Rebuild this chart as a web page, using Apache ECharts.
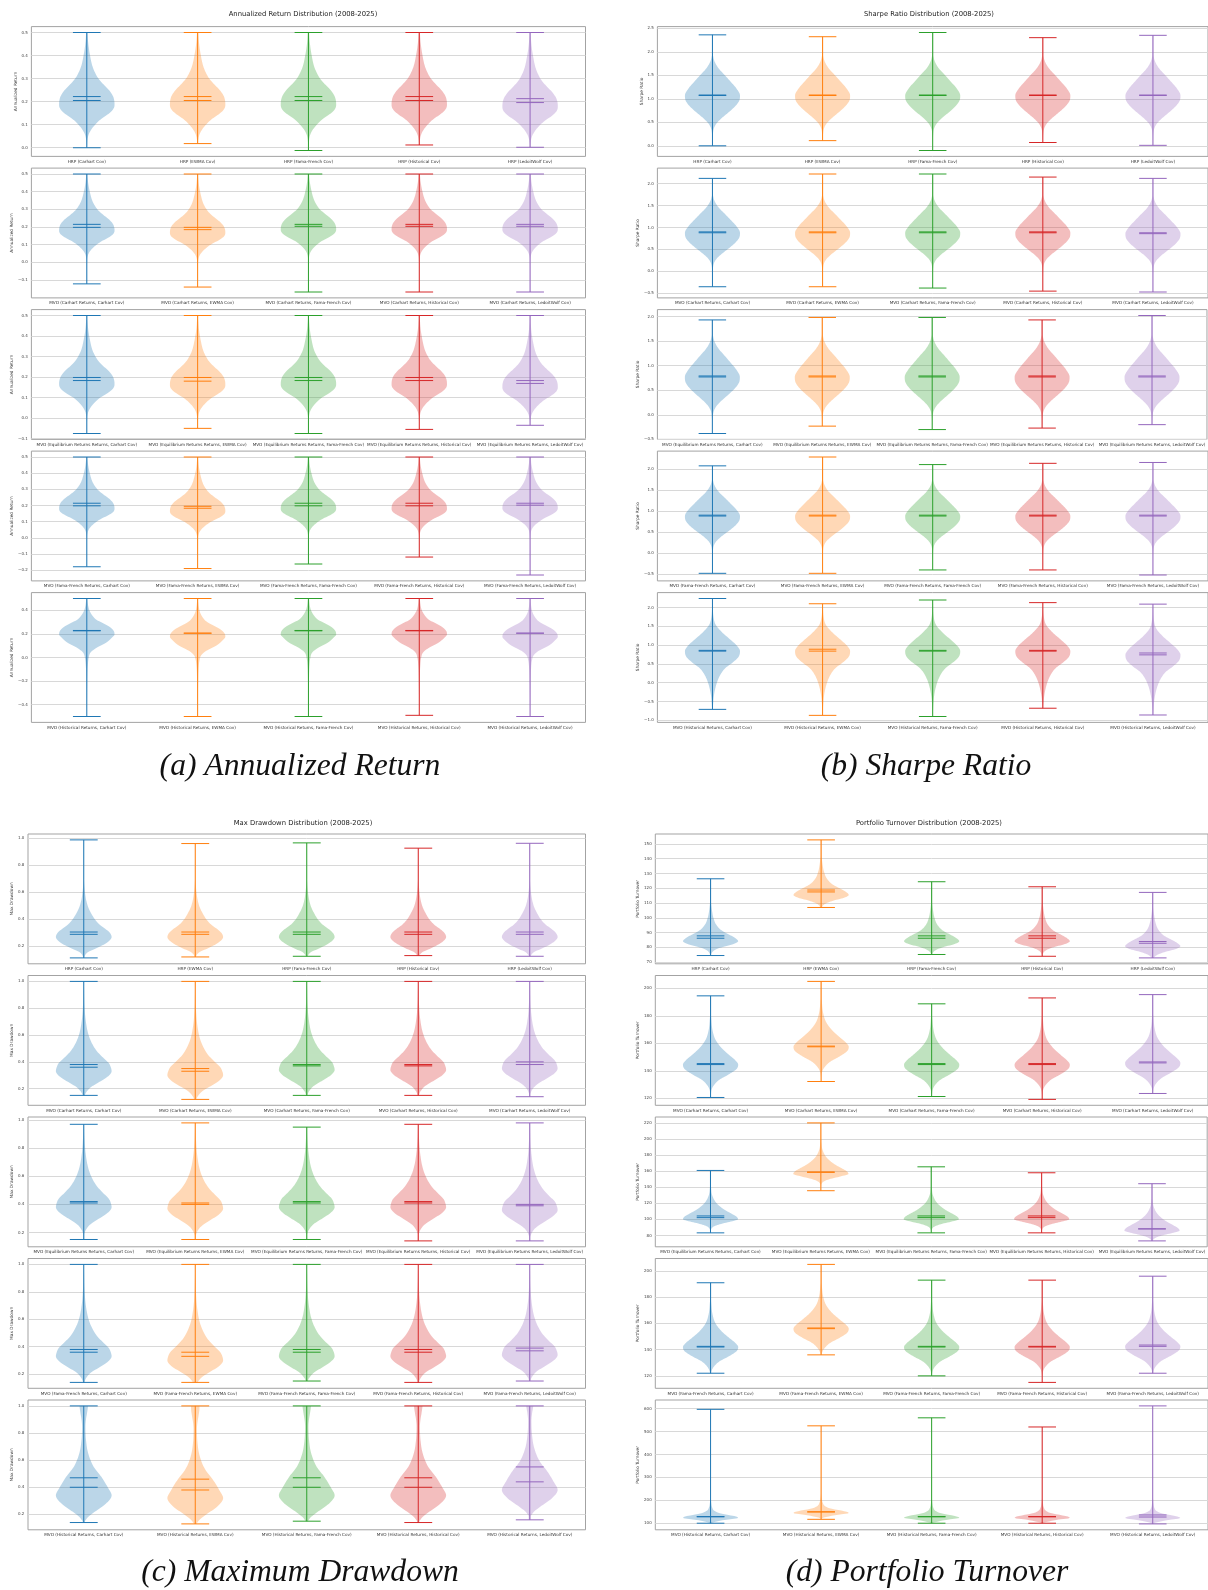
<!DOCTYPE html>
<html>
<head>
<meta charset="utf-8">
<script src="https://cdn.jsdelivr.net/npm/echarts@6/dist/echarts.min.js"></script>
<style>
  html, body { margin: 0; padding: 0; background: #ffffff; }
  #chart { width: 1208px; height: 1590px; }
</style>
</head>
<body>
<div id="chart"></div>
<script>
// ---------------------------------------------------------------------------
// Strategy names, one list per subplot row (same rows in every figure)
// ---------------------------------------------------------------------------
const STRATEGIES = [
  ['HRP (Carhart Cov)', 'HRP (EWMA Cov)', 'HRP (Fama-French Cov)', 'HRP (Historical Cov)', 'HRP (LedoitWolf Cov)'],
  ['MVO (Carhart Returns, Carhart Cov)', 'MVO (Carhart Returns, EWMA Cov)', 'MVO (Carhart Returns, Fama-French Cov)', 'MVO (Carhart Returns, Historical Cov)', 'MVO (Carhart Returns, LedoitWolf Cov)'],
  ['MVO (Equilibrium Returns Returns, Carhart Cov)', 'MVO (Equilibrium Returns Returns, EWMA Cov)', 'MVO (Equilibrium Returns Returns, Fama-French Cov)', 'MVO (Equilibrium Returns Returns, Historical Cov)', 'MVO (Equilibrium Returns Returns, LedoitWolf Cov)'],
  ['MVO (Fama-French Returns, Carhart Cov)', 'MVO (Fama-French Returns, EWMA Cov)', 'MVO (Fama-French Returns, Fama-French Cov)', 'MVO (Fama-French Returns, Historical Cov)', 'MVO (Fama-French Returns, LedoitWolf Cov)'],
  ['MVO (Historical Returns, Carhart Cov)', 'MVO (Historical Returns, EWMA Cov)', 'MVO (Historical Returns, Fama-French Cov)', 'MVO (Historical Returns, Historical Cov)', 'MVO (Historical Returns, LedoitWolf Cov)']
];

// ---------------------------------------------------------------------------
// Annualized return: extrema, mean and median per strategy (rows x strategies)
// ---------------------------------------------------------------------------
const RETURN_MIN = [
  [0.000, 0.018, -0.012, 0.012, 0.002],
  [-0.122, -0.140, -0.168, -0.168, -0.168],
  [-0.075, -0.050, -0.075, -0.055, -0.035],
  [-0.179, -0.190, -0.162, -0.119, -0.230],
  [-0.500, -0.500, -0.500, -0.490, -0.500]
];
const RETURN_MAX = [
  [0.5, 0.5, 0.5, 0.5, 0.5],
  [0.5, 0.5, 0.5, 0.5, 0.5],
  [0.5, 0.5, 0.5, 0.5, 0.5],
  [0.5, 0.5, 0.5, 0.5, 0.5],
  [0.5, 0.5, 0.5, 0.5, 0.5]
];
const RETURN_MEAN = [
  [0.222, 0.222, 0.222, 0.222, 0.213],
  [0.215, 0.198, 0.215, 0.215, 0.215],
  [0.198, 0.198, 0.198, 0.198, 0.183],
  [0.214, 0.195, 0.214, 0.214, 0.214],
  [0.229, 0.207, 0.229, 0.229, 0.207]
];
const RETURN_MEDIAN = [
  [0.205, 0.205, 0.205, 0.205, 0.196],
  [0.198, 0.185, 0.204, 0.204, 0.204],
  [0.183, 0.180, 0.183, 0.183, 0.169],
  [0.198, 0.183, 0.198, 0.198, 0.202],
  [0.226, 0.205, 0.226, 0.226, 0.205]
];
const RETURN_TICKS = [
  [0.0, 0.1, 0.2, 0.3, 0.4, 0.5],
  [-0.1, 0.0, 0.1, 0.2, 0.3, 0.4, 0.5],
  [-0.1, 0.0, 0.1, 0.2, 0.3, 0.4, 0.5],
  [-0.2, -0.1, 0.0, 0.1, 0.2, 0.3, 0.4, 0.5],
  [-0.4, -0.2, 0.0, 0.2, 0.4]
];
// density outlines: [offset from median, relative half-width]
const RETURN_BODY = [[0.30, 0.02], [0.25, 0.05], [0.20, 0.11], [0.15, 0.2], [0.12, 0.3], [0.095, 0.42], [0.07, 0.6], [0.045, 0.8], [0.02, 0.94], [0.0, 0.99], [-0.02, 1.0], [-0.04, 0.94], [-0.06, 0.76], [-0.08, 0.52], [-0.105, 0.3], [-0.13, 0.14], [-0.15, 0.06], [-0.17, 0.025], [-0.2, 0.01]];
const RETURN_BODY_HIST = [[0.27, 0.02], [0.2, 0.06], [0.17, 0.1], [0.13, 0.2], [0.094, 0.35], [0.06, 0.62], [0.034, 0.82], [0.0, 0.97], [-0.03, 1.0], [-0.06, 0.9], [-0.1, 0.7], [-0.146, 0.33], [-0.186, 0.13], [-0.226, 0.07], [-0.3, 0.035], [-0.4, 0.02], [-0.55, 0.01], [-0.72, 0.005]];
const RETURN_SHAPES = [RETURN_BODY, RETURN_BODY, RETURN_BODY, RETURN_BODY, RETURN_BODY_HIST];

// ---------------------------------------------------------------------------
// Sharpe ratio
// ---------------------------------------------------------------------------
const SHARPE_MIN = [
  [0.00, 0.11, -0.10, 0.07, 0.01],
  [-0.35, -0.35, -0.38, -0.45, -0.47],
  [-0.38, -0.23, -0.30, -0.27, -0.20],
  [-0.48, -0.48, -0.40, -0.40, -0.52],
  [-0.71, -0.87, -0.90, -0.68, -0.86]
];
const SHARPE_MAX = [
  [2.36, 2.32, 2.41, 2.30, 2.35],
  [2.12, 2.22, 2.22, 2.15, 2.12],
  [1.93, 1.98, 1.98, 1.93, 2.02],
  [2.07, 2.28, 2.10, 2.13, 2.15],
  [2.24, 2.10, 2.20, 2.13, 2.09]
];
const SHARPE_MEAN = [
  [1.08, 1.08, 1.08, 1.08, 1.08],
  [0.90, 0.90, 0.90, 0.90, 0.88],
  [0.79, 0.79, 0.79, 0.79, 0.79],
  [0.90, 0.90, 0.90, 0.90, 0.90],
  [0.86, 0.89, 0.86, 0.86, 0.79]
];
const SHARPE_MEDIAN = [
  [1.07, 1.07, 1.07, 1.07, 1.07],
  [0.88, 0.88, 0.88, 0.88, 0.86],
  [0.77, 0.77, 0.77, 0.77, 0.77],
  [0.88, 0.88, 0.88, 0.88, 0.88],
  [0.84, 0.84, 0.84, 0.84, 0.74]
];
const SHARPE_TICKS = [
  [0.0, 0.5, 1.0, 1.5, 2.0, 2.5],
  [-0.5, 0.0, 0.5, 1.0, 1.5, 2.0],
  [-0.5, 0.0, 0.5, 1.0, 1.5, 2.0],
  [-0.5, 0.0, 0.5, 1.0, 1.5, 2.0],
  [-1.0, -0.5, 0.0, 0.5, 1.0, 1.5, 2.0]
];
const SHARPE_BODY = [[0.85, 0.02], [0.75, 0.06], [0.65, 0.14], [0.55, 0.26], [0.45, 0.42], [0.3, 0.65], [0.15, 0.87], [0.0, 1.0], [-0.1, 0.98], [-0.2, 0.87], [-0.3, 0.7], [-0.4, 0.5], [-0.5, 0.3], [-0.6, 0.14], [-0.7, 0.05], [-0.8, 0.02], [-1.0, 0.008]];
const SHARPE_BODY_HIST = [[1.3, 0.01], [0.9, 0.04], [0.7, 0.12], [0.5, 0.35], [0.3, 0.66], [0.15, 0.88], [0.0, 1.0], [-0.15, 0.95], [-0.3, 0.74], [-0.45, 0.47], [-0.6, 0.31], [-0.8, 0.18], [-1.0, 0.1], [-1.2, 0.05], [-1.4, 0.025], [-1.6, 0.01]];
const SHARPE_SHAPES = [SHARPE_BODY, SHARPE_BODY, SHARPE_BODY, SHARPE_BODY, SHARPE_BODY_HIST];

// ---------------------------------------------------------------------------
// Max drawdown
// ---------------------------------------------------------------------------
const DRAWDOWN_MIN = [
  [0.114, 0.121, 0.126, 0.131, 0.126],
  [0.15, 0.12, 0.15, 0.15, 0.14],
  [0.15, 0.15, 0.15, 0.14, 0.14],
  [0.14, 0.14, 0.15, 0.14, 0.15],
  [0.14, 0.13, 0.15, 0.14, 0.16]
];
const DRAWDOWN_MAX = [
  [0.985, 0.958, 0.963, 0.924, 0.960],
  [1.0, 1.0, 1.0, 1.0, 1.0],
  [0.97, 0.98, 0.95, 0.97, 0.98],
  [1.0, 1.0, 1.0, 1.0, 1.0],
  [1.0, 1.0, 1.0, 1.0, 1.0]
];
const DRAWDOWN_MEAN = [
  [0.305, 0.305, 0.305, 0.305, 0.305],
  [0.38, 0.35, 0.38, 0.38, 0.40],
  [0.42, 0.41, 0.42, 0.42, 0.40],
  [0.38, 0.36, 0.38, 0.38, 0.39],
  [0.47, 0.46, 0.47, 0.47, 0.55]
];
const DRAWDOWN_MEDIAN = [
  [0.288, 0.288, 0.288, 0.288, 0.288],
  [0.36, 0.33, 0.37, 0.37, 0.38],
  [0.41, 0.40, 0.41, 0.41, 0.39],
  [0.36, 0.33, 0.36, 0.36, 0.37],
  [0.40, 0.38, 0.40, 0.40, 0.44]
];
const DRAWDOWN_TICKS = [
  [0.2, 0.4, 0.6, 0.8, 1.0],
  [0.2, 0.4, 0.6, 0.8, 1.0],
  [0.2, 0.4, 0.6, 0.8, 1.0],
  [0.2, 0.4, 0.6, 0.8, 1.0],
  [0.2, 0.4, 0.6, 0.8, 1.0]
];
const DRAWDOWN_BODY_HRP = [[0.4, 0.01], [0.35, 0.025], [0.3, 0.05], [0.25, 0.09], [0.2, 0.16], [0.15, 0.28], [0.11, 0.4], [0.07, 0.58], [0.04, 0.78], [0.01, 0.94], [-0.02, 1.0], [-0.05, 0.9], [-0.08, 0.68], [-0.11, 0.38], [-0.13, 0.16], [-0.15, 0.06], [-0.17, 0.02]];
const DRAWDOWN_BODY = [[0.6, 0.01], [0.45, 0.03], [0.35, 0.07], [0.25, 0.16], [0.18, 0.29], [0.12, 0.47], [0.07, 0.7], [0.03, 0.9], [0.0, 0.97], [-0.03, 1.0], [-0.07, 0.86], [-0.11, 0.56], [-0.15, 0.25], [-0.19, 0.08], [-0.22, 0.02]];
const DRAWDOWN_BODY_HIST = [[0.75, 0.15], [0.6, 0.15], [0.55, 0.12], [0.5, 0.08], [0.45, 0.06], [0.35, 0.08], [0.25, 0.16], [0.15, 0.36], [0.08, 0.62], [0.0, 0.86], [-0.06, 1.0], [-0.12, 0.8], [-0.18, 0.4], [-0.22, 0.15], [-0.25, 0.04]];
const DRAWDOWN_SHAPES = [DRAWDOWN_BODY_HRP, DRAWDOWN_BODY, DRAWDOWN_BODY, DRAWDOWN_BODY, DRAWDOWN_BODY_HIST];

// ---------------------------------------------------------------------------
// Portfolio turnover
// ---------------------------------------------------------------------------
const TURNOVER_MIN = [
  [74.5, 107.0, 75.2, 74.0, 72.9],
  [120.7, 132.3, 121.4, 119.3, 123.6],
  [83.3, 135.7, 83.3, 83.3, 73.3],
  [122, 136, 120, 115, 122],
  [100, 117, 100, 100, 97]
];
const TURNOVER_MAX = [
  [126.4, 152.7, 124.4, 121.0, 117.2],
  [194.5, 205.0, 188.7, 193.0, 195.4],
  [160.9, 220.0, 165.4, 158.0, 144.4],
  [191, 205, 193, 193, 196],
  [597, 525, 560, 520, 612]
];
const TURNOVER_MEAN = [
  [87.8, 118.8, 87.8, 87.8, 84.0],
  [145.3, 158.0, 145.3, 145.3, 146.5],
  [104.3, 159.0, 104.3, 104.3, 88.5],
  [142.5, 156.5, 142.5, 142.5, 143.5],
  [129, 150, 129, 129, 136]
];
const TURNOVER_MEDIAN = [
  [86.2, 117.5, 86.2, 86.2, 82.8],
  [144.6, 157.5, 144.6, 144.6, 145.8],
  [102.2, 158.5, 102.2, 102.2, 88.0],
  [142.0, 156.0, 142.0, 142.0, 142.5],
  [128, 149, 128, 128, 127]
];
const TURNOVER_TICKS = [
  [70, 80, 90, 100, 110, 120, 130, 140, 150],
  [120, 140, 160, 180, 200],
  [80, 100, 120, 140, 160, 180, 200, 220],
  [120, 140, 160, 180, 200],
  [100, 200, 300, 400, 500, 600]
];
const TURNOVER_BODY_HRP = [[24, 0.02], [19, 0.05], [14, 0.1], [9, 0.21], [5, 0.42], [2, 0.72], [0, 0.9], [-2, 1.0], [-4, 0.82], [-6, 0.42], [-8, 0.15], [-10, 0.04], [-13, 0.01]];
const TURNOVER_BODY_MVO = [[35, 0.02], [25, 0.07], [18, 0.18], [12, 0.4], [7, 0.67], [3, 0.9], [0, 1.0], [-3, 0.95], [-7, 0.67], [-11, 0.32], [-15, 0.12], [-18, 0.04], [-22, 0.01]];
const TURNOVER_BODY_EQ = [[38, 0.02], [28, 0.06], [18, 0.22], [10, 0.5], [5, 0.76], [1, 0.95], [-2, 1.0], [-5, 0.72], [-8, 0.36], [-11, 0.12], [-14, 0.03], [-18, 0.01]];
const TURNOVER_BODY_HIST = [[80, 0.01], [60, 0.025], [40, 0.06], [25, 0.15], [15, 0.35], [7, 0.7], [0, 0.95], [-5, 1.0], [-12, 0.6], [-20, 0.25], [-26, 0.05], [-30, 0.01]];
const TURNOVER_SHAPES = [TURNOVER_BODY_HRP, TURNOVER_BODY_MVO, TURNOVER_BODY_EQ, TURNOVER_BODY_MVO, TURNOVER_BODY_HIST];

// ---------------------------------------------------------------------------
// Figure definitions
// ---------------------------------------------------------------------------
const METRICS = [
  { title: 'Annualized Return Distribution (2008-2025)', yName: 'Annualized Return', caption: '(a) Annualized Return',
    min: RETURN_MIN, max: RETURN_MAX, mean: RETURN_MEAN, median: RETURN_MEDIAN, ticks: RETURN_TICKS, shapes: RETURN_SHAPES, decimals: 1 },
  { title: 'Sharpe Ratio Distribution (2008-2025)', yName: 'Sharpe Ratio', caption: '(b) Sharpe Ratio',
    min: SHARPE_MIN, max: SHARPE_MAX, mean: SHARPE_MEAN, median: SHARPE_MEDIAN, ticks: SHARPE_TICKS, shapes: SHARPE_SHAPES, decimals: 1 },
  { title: 'Max Drawdown Distribution (2008-2025)', yName: 'Max Drawdown', caption: '(c) Maximum Drawdown',
    min: DRAWDOWN_MIN, max: DRAWDOWN_MAX, mean: DRAWDOWN_MEAN, median: DRAWDOWN_MEDIAN, ticks: DRAWDOWN_TICKS, shapes: DRAWDOWN_SHAPES, decimals: 1 },
  { title: 'Portfolio Turnover Distribution (2008-2025)', yName: 'Portfolio Turnover', caption: '(d) Portfolio Turnover',
    min: TURNOVER_MIN, max: TURNOVER_MAX, mean: TURNOVER_MEAN, median: TURNOVER_MEDIAN, ticks: TURNOVER_TICKS, shapes: TURNOVER_SHAPES, decimals: 0 }
];

const COLORS = ['#1f77b4', '#ff7f0e', '#2ca02c', '#d62728', '#9467bd'];
const FONT = 'DejaVu Sans';

// panel placement on the page
const PANELS = [
  { left: 31.4, width: 554.1, top: 26.6, titleX: 303, titleY: 14.7, capX: 300, capY: 766.5 },
  { left: 657.4, width: 553.6, top: 26.6, titleX: 929, titleY: 14.7, capX: 926, capY: 766.5 },
  { left: 28.0, width: 557.5, top: 834.0, titleX: 303, titleY: 823.3, capX: 300, capY: 1573 },
  { left: 655.3, width: 555.7, top: 834.0, titleX: 929, titleY: 823.3, capX: 927, capY: 1573 }
];
const ROW_PITCH = 141.5;
const ROW_HEIGHT = 129.8;
const TICK_FONT = 4.0;
const CAT_FONT = 4.2;
const NAME_FONT = 4.3;
const TITLE_FONT = 6.8;
const CAPTION_FONT = 31.6;

const measureCtx = document.createElement('canvas').getContext('2d');
function textWidth(str, size) {
  measureCtx.font = size + 'px "' + FONT + '"';
  return measureCtx.measureText(str).width;
}

function formatTick(v, decimals) {
  let s = Math.abs(v) < 1e-9 ? (0).toFixed(decimals) : v.toFixed(decimals);
  if (s.charAt(0) === '-') s = '\u2212' + s.slice(1);
  return s;
}

// smooth, non-overshooting curve through the outline knots (Fritsch-Carlson)
function makeOutline(knots) {
  const pts = knots.slice().sort((a, b) => a[0] - b[0]);
  const n = pts.length;
  const xs = pts.map(p => p[0]), ys = pts.map(p => p[1]);
  const d = [], m = new Array(n);
  for (let i = 0; i < n - 1; i++) d.push((ys[i + 1] - ys[i]) / (xs[i + 1] - xs[i]));
  m[0] = d[0];
  m[n - 1] = d[n - 2];
  for (let i = 1; i < n - 1; i++) m[i] = (d[i - 1] * d[i] <= 0) ? 0 : (d[i - 1] + d[i]) / 2;
  for (let i = 0; i < n - 1; i++) {
    if (d[i] === 0) { m[i] = 0; m[i + 1] = 0; continue; }
    const a = m[i] / d[i], b = m[i + 1] / d[i];
    const s = a * a + b * b;
    if (s > 9) {
      const t = 3 / Math.sqrt(s);
      m[i] = t * a * d[i];
      m[i + 1] = t * b * d[i];
    }
  }
  return function (x) {
    if (x <= xs[0]) return ys[0];
    if (x >= xs[n - 1]) return ys[n - 1];
    let i = 0;
    while (x > xs[i + 1]) i++;
    const h = xs[i + 1] - xs[i], t = (x - xs[i]) / h;
    const t2 = t * t, t3 = t2 * t;
    const v = (2 * t3 - 3 * t2 + 1) * ys[i] + (t3 - 2 * t2 + t) * h * m[i]
            + (-2 * t3 + 3 * t2) * ys[i + 1] + (t3 - t2) * h * m[i + 1];
    return Math.max(0, v);
  };
}

function makeViolinRenderer(shape) {
  const outline = makeOutline(shape);
  const STEPS = 160;
  return function (params, api) {
    const idx = api.value(0);
    const lo = api.value(1), hi = api.value(2), mean = api.value(3), med = api.value(4);
    const band = api.size([1, 0])[0];
    const halfW = band * 0.25;
    const capW = band * 0.125;
    const cx = api.coord([idx, med])[0];
    const color = COLORS[idx];

    const right = [], left = [];
    for (let k = 0; k <= STEPS; k++) {
      const v = lo + (hi - lo) * k / STEPS;
      const w = outline(v - med) * halfW;
      const y = api.coord([idx, v])[1];
      right.push([cx + w, y]);
      left.push([cx - w, y]);
    }
    const points = right.concat(left.reverse());

    const yLo = api.coord([idx, lo])[1];
    const yHi = api.coord([idx, hi])[1];
    const yMean = api.coord([idx, mean])[1];
    const yMed = api.coord([idx, med])[1];
    const lineStyle = { stroke: color, lineWidth: 1 };
    const hLine = y => ({ type: 'line', shape: { x1: cx - capW, y1: y, x2: cx + capW, y2: y }, style: lineStyle });

    return {
      type: 'group',
      children: [
        { type: 'polygon', shape: { points: points }, style: { fill: color, opacity: 0.3 } },
        { type: 'line', shape: { x1: cx, y1: yLo, x2: cx, y2: yHi }, style: lineStyle },
        hLine(yLo), hLine(yHi), hLine(yMean), hLine(yMed)
      ]
    };
  };
}

const grids = [], xAxes = [], yAxes = [], series = [], graphics = [];

METRICS.forEach((m, pi) => {
  const panel = PANELS[pi];
  graphics.push({
    type: 'text', x: panel.titleX, y: panel.titleY, silent: true,
    style: { text: m.title, fontSize: TITLE_FONT, fontFamily: FONT, fill: '#222', align: 'center', verticalAlign: 'middle' }
  });
  graphics.push({
    type: 'text', x: panel.capX, y: panel.capY, silent: true,
    style: { text: m.caption, fontSize: CAPTION_FONT, fontFamily: 'Liberation Serif', fontStyle: 'italic', fill: '#111', align: 'center', verticalAlign: 'middle' }
  });

  for (let r = 0; r < 5; r++) {
    const g = grids.length;
    const ticks = m.ticks[r];
    const lo = Math.min.apply(null, m.min[r]);
    const hi = Math.max.apply(null, m.max[r]);
    const pad = (hi - lo) * 0.05;
    const labelW = Math.max.apply(null, ticks.map(t => textWidth(formatTick(t, m.decimals), TICK_FONT)));

    grids.push({
      left: panel.left, top: panel.top + r * ROW_PITCH, width: panel.width, height: ROW_HEIGHT,
      show: true, borderColor: '#a3a3a3', borderWidth: 1, backgroundColor: 'transparent'
    });
    xAxes.push({
      type: 'category', gridIndex: g, data: STRATEGIES[r], boundaryGap: true,
      axisLine: { show: false }, axisTick: { show: false }, splitLine: { show: false },
      axisLabel: { interval: 0, fontSize: CAT_FONT, fontFamily: FONT, color: '#333', margin: 3.2 }
    });
    yAxes.push({
      type: 'value', gridIndex: g, min: lo - pad, max: hi + pad,
      axisLine: { show: false },
      axisTick: { show: false, customValues: ticks },
      axisLabel: { customValues: ticks, fontSize: TICK_FONT, fontFamily: FONT, color: '#444', margin: 3.6,
                   formatter: v => formatTick(v, m.decimals) },
      splitLine: { show: true, lineStyle: { color: '#d8d8d8', width: 1 } },
      name: m.yName, nameLocation: 'middle', nameRotate: 90, nameGap: labelW + 5,
      nameTextStyle: { fontSize: NAME_FONT, fontFamily: FONT, color: '#333' }
    });
    const data = [];
    for (let i = 0; i < 5; i++) {
      data.push([i, m.min[r][i], m.max[r][i], m.mean[r][i], m.median[r][i]]);
    }
    series.push({
      type: 'custom', xAxisIndex: g, yAxisIndex: g, silent: true, clip: false,
      encode: { x: 0, y: [1, 2, 3, 4] },
      renderItem: makeViolinRenderer(m.shapes[r]),
      data: data
    });
  }
});

const chart = echarts.init(document.getElementById('chart'), null, { renderer: 'canvas', width: 1208, height: 1590 });
chart.setOption({
  backgroundColor: '#ffffff',
  animation: false,
  grid: grids,
  xAxis: xAxes,
  yAxis: yAxes,
  series: series,
  graphic: graphics
});
</script>
</body>
</html>
